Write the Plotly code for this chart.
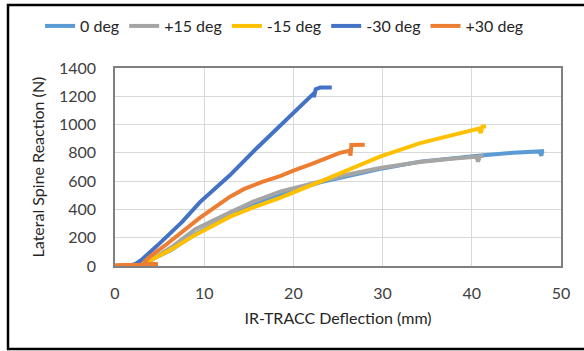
import plotly.graph_objects as go

# ---- data ----
names = ["0 deg", "+15 deg", "-15 deg", "-30 deg", "+30 deg"]
colors = ["#5B9BD5", "#A5A5A5", "#FFC000", "#4472C4", "#ED7D31"]

x_0deg = [0, 2.5, 3.2, 4.5, 6.2, 9, 12.9, 15.5, 18.5, 23, 27, 30, 34.2, 38, 41, 44.6, 47.6, 47.8, 47.9, 48.1]
y_0deg = [0, 5, 20, 60, 110, 225, 355, 428, 505, 592, 652, 690, 738, 765, 782, 800, 810, 780, 812, 815]

x_p15 = [0, 2.5, 4.8, 3.5, 4.5, 6.5, 9, 12.9, 15.5, 18.5, 23, 26, 29.7, 34.2, 38, 40.5, 40.7, 40.9, 41.3]
y_p15 = [0, 0, 5, 15, 60, 140, 260, 380, 455, 526, 600, 645, 693, 735, 760, 772, 738, 776, 780]

x_m15 = [0, 2.5, 3.2, 4.5, 6.2, 9, 12.9, 15.5, 18.5, 23, 26, 29.7, 34.2, 38, 40.8, 41.0, 41.2, 41.6]
y_m15 = [0, 3, 15, 55, 113, 220, 349, 415, 481, 596, 675, 773, 869, 930, 972, 940, 985, 988]

x_m30 = [0, 1.5, 2.3, 3, 5, 7.5, 9.5, 12.9, 16, 20, 21.8, 22.2, 22.3, 22.5, 23.0, 24.3]
y_m30 = [0, 0, 15, 45, 160, 310, 450, 643, 840, 1082, 1185, 1215, 1195, 1250, 1262, 1262]

x_p30 = [0, 2, 4.8, 3.2, 3.9, 5.5, 6.9, 9.5, 12.9, 14.5, 16.5, 18.5, 20, 22, 25.2, 26.3, 26.4, 26.5, 28]
y_p30 = [5, 8, 12, 25, 66, 140, 207, 340, 490, 545, 595, 635, 675, 720, 800, 815, 780, 856, 858]

xs = [x_0deg, x_p15, x_m15, x_m30, x_p30]
ys = [y_0deg, y_p15, y_m15, y_m30, y_p30]

x_ticks = [0, 10, 20, 30, 40, 50]
y_ticks = [0, 200, 400, 600, 800, 1000, 1200, 1400]

FONT = "Lato"

fig = go.Figure()
for n, c, xv, yv in zip(names, colors, xs, ys):
    fig.add_trace(go.Scatter(x=xv, y=yv, mode="lines", name=n,
                             line=dict(color=c, width=4)))

fig.update_layout(
    width=584, height=351,
    margin=dict(l=115, r=23, t=68, b=85, autoexpand=False),
    paper_bgcolor="white", plot_bgcolor="white",
    font=dict(family=FONT, size=16, color="#404040"),
    legend=dict(orientation="h", x=-0.168, xanchor="left", y=1.212, yanchor="middle",
                font=dict(family=FONT, size=16, color="#262626"),
                itemwidth=30, tracegroupgap=0, bgcolor="rgba(0,0,0,0)"),
    showlegend=True,
)
fig.update_xaxes(range=[0, 50], tickvals=x_ticks, showgrid=True, gridcolor="#D9D9D9", gridwidth=1,
                 showline=True, linecolor="#808080", linewidth=1.5, mirror=True, zeroline=False,
                 ticks="", ticklabelstandoff=12, automargin=False,
                 title=dict(text="IR-TRACC Deflection (mm)", standoff=12,
                            font=dict(family=FONT, size=16, color="#262626")))
fig.update_yaxes(range=[0, 1400], tickvals=y_ticks, showgrid=True, gridcolor="#D9D9D9", gridwidth=1,
                 showline=True, linecolor="#808080", linewidth=1.5, mirror=True, zeroline=False,
                 ticks="", ticklabelstandoff=14, automargin=False,
                 title=dict(text="Lateral Spine Reaction (N)", standoff=10,
                            font=dict(family=FONT, size=16, color="#262626")))

# outer chart-area border
fig.add_shape(type="rect", xref="paper", yref="paper",
              x0=(8 - 115) / 446, x1=(592 - 115) / 446,
              y0=(266 - 349) / 198, y1=(266 - 5) / 198,
              line=dict(color="black", width=2.5), layer="below")

fig.write_html("out.html")
